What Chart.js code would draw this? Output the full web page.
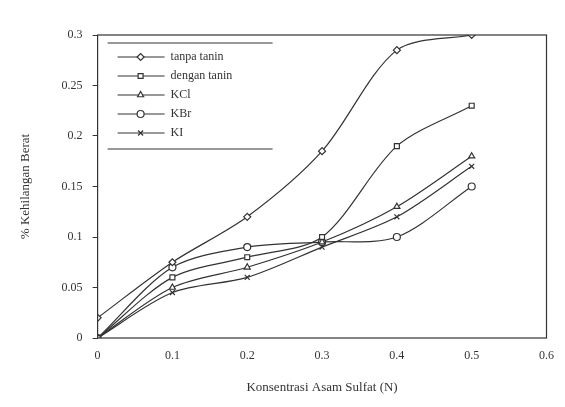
<!DOCTYPE html>
<html>
<head>
<meta charset="utf-8">
<script src="https://cdn.jsdelivr.net/npm/chart.js@4.4.0/dist/chart.umd.min.js"></script>
<style>
  html, body { margin: 0; padding: 0; background: #fff; }
  #wrap { width: 565px; height: 407px; }
</style>
</head>
<body>
<div id="wrap"><canvas id="acidChart"></canvas></div>
<script>
// data
const konsentrasi = [0, 0.1, 0.2, 0.3, 0.4, 0.5];
const seriesLabels = ["tanpa tanin", "dengan tanin", "KCl", "KBr", "KI"];
const tanpaTanin = [0.02, 0.075, 0.12, 0.185, 0.285, 0.3];
const denganTanin = [0, 0.06, 0.08, 0.1, 0.19, 0.23];
const kcl = [0, 0.05, 0.07, 0.095, 0.13, 0.18];
const kbr = [0, 0.07, 0.09, 0.095, 0.1, 0.15];
const ki = [0, 0.045, 0.06, 0.09, 0.12, 0.17];
const xTicks = [0, 0.1, 0.2, 0.3, 0.4, 0.5, 0.6];
const yTicks = [0, 0.05, 0.1, 0.15, 0.2, 0.25, 0.3];

const ink = "#333";
const font = "'Liberation Serif', 'DejaVu Serif', serif";

function toPoints(values) {
  return values.map((v, i) => ({ x: konsentrasi[i], y: v }));
}

// "0.30" -> "0.3", like the original axis
function trimNum(v) {
  return String(+Number(v).toFixed(2));
}

const allSeries = [tanpaTanin, denganTanin, kcl, kbr, ki];
const styles = ["rectRot", "rect", "triangle", "circle", "crossRot"];

const datasets = allSeries.map((vals, i) => ({
  label: seriesLabels[i],
  data: toPoints(vals),
  borderColor: ink,
  backgroundColor: "#fff",
  borderWidth: 1.2,
  pointStyle: styles[i],
  pointRadius: 3.5,
  pointBorderWidth: 1.2,
  tension: 0.3,
  fill: false,
}));

// box around the plot area
const frame = {
  id: "frame",
  afterDraw(chart) {
    const a = chart.chartArea;
    const ctx = chart.ctx;
    ctx.save();
    ctx.strokeStyle = ink;
    ctx.lineWidth = 1.2;
    ctx.strokeRect(a.left, a.top, a.right - a.left, a.bottom - a.top);
    ctx.restore();
  },
};

// legend drawn inside the plot, top-left, with rules above and below
const innerLegend = {
  id: "innerLegend",
  afterDraw(chart) {
    const ctx = chart.ctx;
    const a = chart.chartArea;
    const x0 = a.left + 15;
    const y0 = a.top + 22;
    const rowH = 19;
    ctx.save();
    ctx.strokeStyle = ink;
    ctx.fillStyle = ink;
    ctx.lineWidth = 1;
    ctx.beginPath();
    ctx.moveTo(x0 - 5, y0 - 14);
    ctx.lineTo(x0 + 160, y0 - 14);
    ctx.moveTo(x0 - 5, y0 + rowH * 4 + 16);
    ctx.lineTo(x0 + 160, y0 + rowH * 4 + 16);
    ctx.stroke();
    ctx.font = "12px " + font;
    ctx.textBaseline = "middle";
    chart.data.datasets.forEach((ds, i) => {
      const y = y0 + i * rowH;
      ctx.lineWidth = 1.2;
      ctx.beginPath();
      ctx.moveTo(x0 + 5, y);
      ctx.lineTo(x0 + 52, y);
      ctx.stroke();
      ctx.fillStyle = "#fff";
      Chart.helpers.drawPoint(ctx, { pointStyle: ds.pointStyle, radius: 3.5, borderWidth: 1.2 }, x0 + 28, y);
      ctx.fillStyle = ink;
      ctx.fillText(ds.label, x0 + 58, y);
    });
    ctx.restore();
  },
};

const ctx = document.getElementById("acidChart").getContext("2d");
new Chart(ctx, {
  type: "line",
  data: { datasets: datasets },
  plugins: [frame, innerLegend],
  options: {
    responsive: true,
    maintainAspectRatio: false,
    animation: false,
    layout: { padding: { top: 35, right: 6, left: 14, bottom: 8 } },
    plugins: {
      legend: { display: false },
      tooltip: { enabled: false },
    },
    scales: {
      x: {
        type: "linear",
        min: 0,
        max: 0.6,
        afterBuildTicks: (axis) => { axis.ticks = xTicks.map((v) => ({ value: v })); },
        grid: { display: false, drawTicks: false },
        border: { display: false },
        ticks: { color: ink, font: { family: font, size: 12 }, padding: 11, callback: trimNum },
        title: {
          display: true,
          text: "Konsentrasi Asam Sulfat (N)",
          color: ink,
          font: { family: font, size: 13 },
          padding: { top: 5 },
        },
      },
      y: {
        min: 0,
        max: 0.3,
        afterBuildTicks: (axis) => { axis.ticks = yTicks.map((v) => ({ value: v })); },
        grid: { drawOnChartArea: false, tickLength: 5, color: ink },
        border: { display: false },
        ticks: { color: ink, font: { family: font, size: 12 }, padding: 10, callback: trimNum },
        title: {
          display: true,
          text: "% Kehilangan Berat",
          color: ink,
          font: { family: font, size: 13 },
          padding: { bottom: 18 },
        },
      },
    },
  },
});
</script>
</body>
</html>
